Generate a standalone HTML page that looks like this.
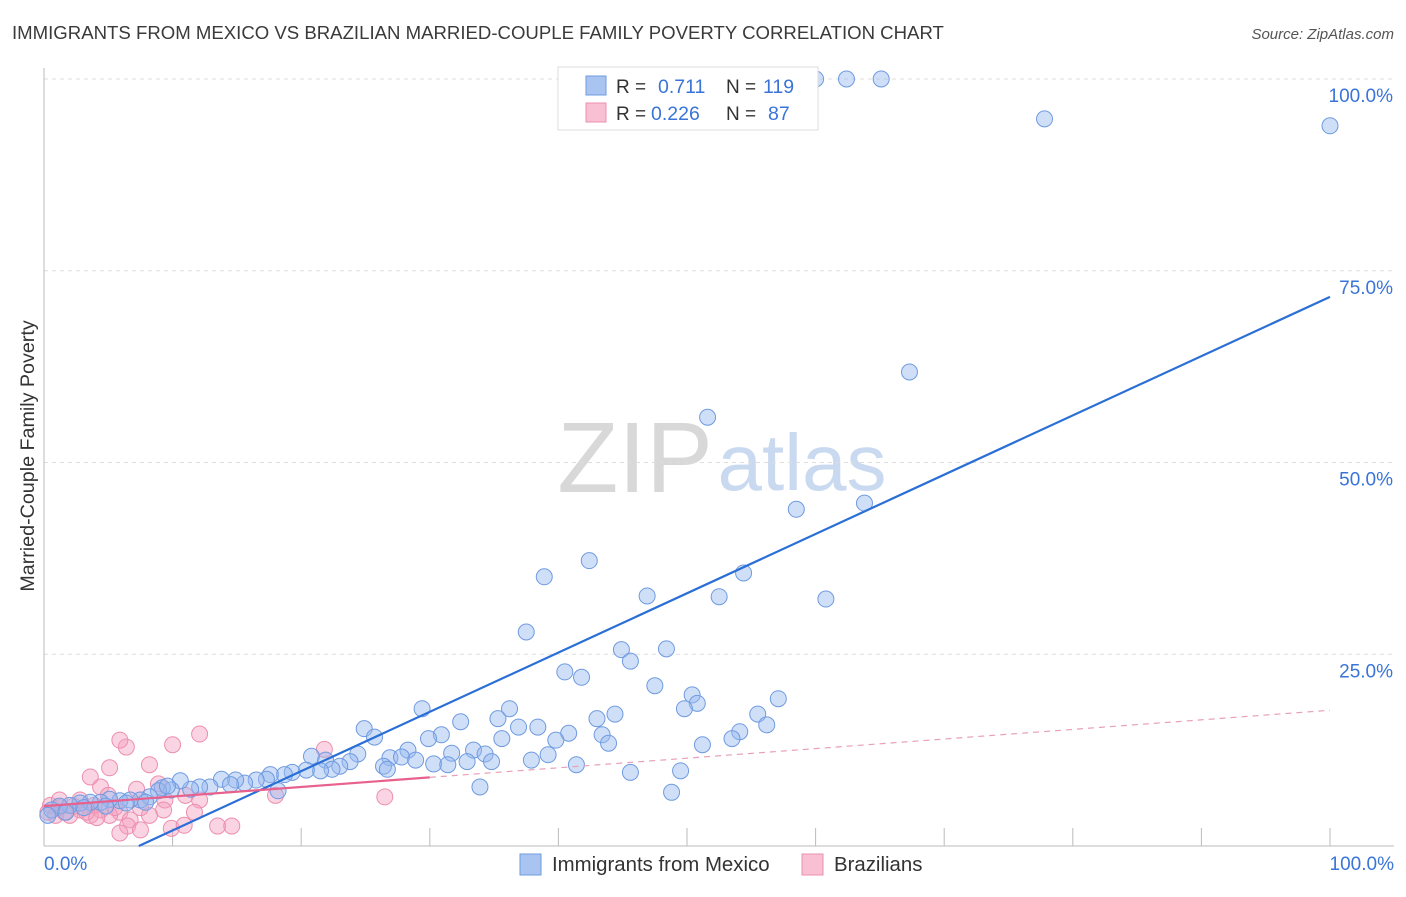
<!DOCTYPE html>
<html><head><meta charset="utf-8"><style>
body{margin:0;background:#fff;font-family:"Liberation Sans",sans-serif;}
svg text{font-family:"Liberation Sans",sans-serif;}
</style></head><body>
<svg id="chart" width="1406" height="892" xmlns="http://www.w3.org/2000/svg">
<text x="12" y="39" font-size="18.6" fill="#3a3a3a">IMMIGRANTS FROM MEXICO VS BRAZILIAN MARRIED-COUPLE FAMILY POVERTY CORRELATION CHART</text>
<text x="1394" y="39" font-size="15" fill="#555" text-anchor="end" font-style="italic">Source: ZipAtlas.com</text>
<text transform="translate(34,456) rotate(-90)" font-size="19.7" fill="#333" text-anchor="middle">Married-Couple Family Poverty</text>
<g>
<text x="635" y="492" font-size="100" fill="#d8d8d8" text-anchor="middle" font-family="Liberation Serif">ZIP</text>
<text x="802" y="490" font-size="80" fill="#c9d9f0" text-anchor="middle">atlas</text>
</g>
<g id="grid"></g><g id="axes"></g><g id="marks"></g><g id="lines"></g>
<g>
<rect x="558" y="67" width="260" height="63" fill="#fff" stroke="#ddd"/>
<rect x="586" y="76" width="20" height="19" fill="#a9c4f0" stroke="#6f9be0"/>
<text x="616" y="93" font-size="19" fill="#333">R =</text><text x="658" y="93" font-size="19.5" fill="#3a74d8">0.711</text>
<text x="726" y="93" font-size="19" fill="#333">N =</text><text x="763" y="93" font-size="19.5" fill="#3a74d8">119</text>
<rect x="586" y="103" width="20" height="19" fill="#f8c0d2" stroke="#ec8fae"/>
<text x="616" y="120" font-size="19" fill="#333">R =</text><text x="651" y="120" font-size="19.5" fill="#3a74d8">0.226</text>
<text x="726" y="120" font-size="19" fill="#333">N =</text><text x="768" y="120" font-size="19.5" fill="#3a74d8">87</text>
</g>
<g>
<rect x="520" y="854" width="21" height="21" fill="#a9c4f0" stroke="#6f9be0"/>
<text x="552" y="871" font-size="20.4" fill="#333">Immigrants from Mexico</text>
<rect x="802" y="854" width="21" height="21" fill="#f8c0d2" stroke="#ec8fae"/>
<text x="834" y="871" font-size="20.4" fill="#333">Brazilians</text>
</g>
</svg>
<script>
const blueX=[60.0,62.4,65.1,77.8,100,67.3,51.6,58.5,63.8,42.4,38.9,54.4,46.9,52.5,60.8,37.5,44.9,48.4,45.6,40.5,41.8,47.5,50.4,50.8,49.8,57.1,29.4,36.2,35.3,44.4,43.0,55.5,32.4,36.9,38.4,56.2,24.9,25.7,30.9,29.9,35.6,40.8,43.4,43.9,54.1,53.5,39.8,51.2,28.3,33.4,34.3,24.4,31.7,20.8,26.9,27.8,39.2,21.9,28.9,37.9,32.9,34.8,23.8,30.3,31.4,23.0,26.4,26.7,41.4,22.4,21.5,20.4,19.3,18.7,17.6,17.3,45.6,49.5,33.9,48.8,16.5,15.6,14.9,13.8,14.5,12.9,12.1,11.4,10.6,9.9,9.2,8.9,18.2,8.2,7.5,6.7,5.9,5.1,4.4,3.6,2.8,2.0,1.2,0.6,0.3,1.7,3.1,4.8,6.4,7.9,9.6];
const blueY=[100,100,100,94.8,93.9,61.8,55.9,43.9,44.7,37.2,35.1,35.6,32.6,32.5,32.2,27.9,25.6,25.7,24.1,22.7,22.0,20.9,19.7,18.6,17.9,19.2,17.9,17.9,16.6,17.2,16.6,17.2,16.2,15.5,15.5,15.8,15.3,14.2,14.5,14.0,14.0,14.7,14.5,13.4,14.9,14.0,13.8,13.2,12.5,12.5,12.0,12.0,12.1,11.7,11.5,11.6,11.9,11.2,11.2,11.2,11.0,11.0,11.0,10.7,10.6,10.4,10.4,10.0,10.6,10.0,9.8,9.9,9.6,9.3,9.3,8.7,9.6,9.8,7.7,7.0,8.6,8.2,8.6,8.7,8.0,7.7,7.7,7.4,8.5,7.3,7.6,7.2,7.2,6.4,6.0,6.0,5.9,6.1,5.7,5.7,5.6,5.3,5.2,4.7,4.0,4.4,5.0,5.2,5.6,5.7,7.8];
const pinkX=[3.6,5.1,6.4,5.9,8.2,10.0,12.1,21.8,26.5,18.0,8.9,4.4,7.2,11.0,12.1,9.4,5.9,6.7,6.5,7.5,5.9,9.9,10.9,13.5,14.6,9.3,8.2,5.1,4.4,2.8,1.2,0.5,2.0,3.6,7.5,11.7,5.0,2.8,1.2,3.9,5.5,0.3,0.9,1.6,2.3,3.3,4.1];
const pinkY=[9.0,10.2,12.9,13.8,10.6,13.2,14.6,12.6,6.4,6.6,8.1,7.7,7.4,6.6,6.0,6.0,4.4,3.4,2.6,2.1,1.7,2.3,2.7,2.6,2.6,4.7,4.0,4.0,4.7,4.7,5.0,5.3,4.0,4.0,5.0,4.4,6.6,6.0,6.0,5.3,5.0,4.4,4.0,4.4,5.2,4.4,3.7];
const blueFit=[0.773,-5.7];
const pinkFit=[0.125,5.2];
const yTicks=[25,50,75,100];
const yTickLabels=["25.0%","50.0%","75.0%","100.0%"];
const xTicks=[0,10,20,30,40,50,60,70,80,90,100];

const NS="http://www.w3.org/2000/svg";
const sx=v=>44+v*12.86, sy=v=>846-v*7.67;
function mk(tag,attrs,parent){const e=document.createElementNS(NS,tag);for(const k in attrs)e.setAttribute(k,attrs[k]);document.getElementById(parent).appendChild(e);return e;}
yTicks.forEach((t,i)=>{
 const g=mk('line',{x1:44,x2:1394,y1:sy(t),y2:sy(t),stroke:'#ddd','stroke-dasharray':'4,4'},'grid');
 
 
 const tx=mk('text',{x:1393,y:sy(t)+23,'font-size':19,fill:'#3a74d8','text-anchor':'end'},'axes');
 tx.textContent=yTickLabels[i];
 
 
});
const ax=mk('line',{x1:44,x2:1394,y1:846,y2:846,stroke:'#bbb'},'axes');


const ay=mk('line',{x1:44,x2:44,y1:68,y2:846,stroke:'#bbb'},'axes');


xTicks.forEach(t=>{
 const l=mk('line',{x1:sx(t),x2:sx(t),y1:828,y2:846,stroke:'#bbb'},'axes');
 
 
});
const x0=mk('text',{x:44,y:870,'font-size':19,fill:'#3a74d8'},'axes');x0.textContent='0.0%';


const x1=mk('text',{x:1394,y:870,'font-size':19,fill:'#3a74d8','text-anchor':'end'},'axes');x1.textContent='100.0%';


pinkX.forEach((v,i)=>{
 const c=mk('circle',{cx:sx(v),cy:sy(pinkY[i]),r:8,fill:'rgba(245,160,190,0.45)',stroke:'#ec8fae','stroke-width':1},'marks');
 
 
});
blueX.forEach((v,i)=>{
 const c=mk('circle',{cx:sx(v),cy:sy(blueY[i]),r:8,fill:'rgba(150,185,240,0.45)',stroke:'#6f9be0','stroke-width':1},'marks');
 
 
});
const bx0=-blueFit[1]/blueFit[0];
const bl=mk('line',{x1:sx(bx0),y1:sy(0),x2:sx(100),y2:sy(blueFit[0]*100+blueFit[1]),stroke:'#2a6fd6','stroke-width':2.2},'lines');


const ps=mk('line',{x1:sx(0),y1:sy(pinkFit[1]),x2:sx(30),y2:sy(pinkFit[0]*30+pinkFit[1]),stroke:'#e8608c','stroke-width':2.2},'lines');


const pd=mk('line',{x1:sx(30),y1:sy(pinkFit[0]*30+pinkFit[1]),x2:sx(100),y2:sy(pinkFit[0]*100+pinkFit[1]),stroke:'#e8a0b8','stroke-width':1.2,'stroke-dasharray':'6,5'},'lines');


</script>
</body></html>
